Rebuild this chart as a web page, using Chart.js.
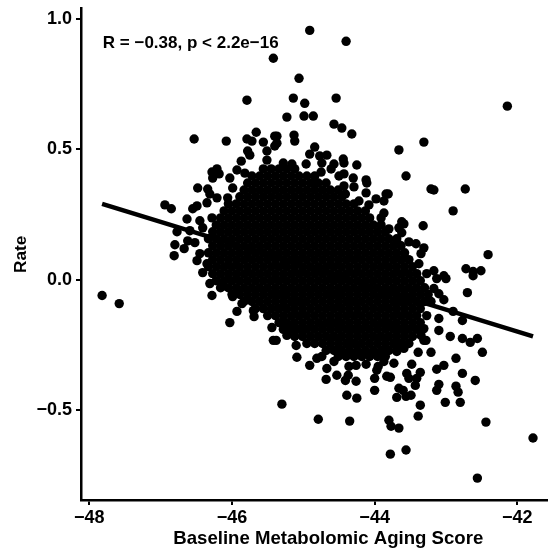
<!DOCTYPE html>
<html>
<head>
<meta charset="utf-8">
<style>
  html, body { margin: 0; padding: 0; background: #fff; }
  canvas { display: block; }
</style>
<script src="https://cdn.jsdelivr.net/npm/chart.js@4"></script>
</head>
<body>
<canvas id="chart" width="548" height="555"></canvas>
<script>
const xTicks = [-48, -46, -44, -42];
const yTicks = [-0.5, 0, 0.5, 1];
const xTitle = "Baseline Metabolomic Aging Score";
const yTitle = "Rate";
const statLabel = "R = \u22120.38, p < 2.2e\u221216";
const statX = -47.81;
const statY = 0.907;

// fit line ends
const fitX = [-47.82, -41.78];
const fitY = [0.291, -0.218];

// points readable on their own, around the edge of the cloud
const edgeX = [
  -45.42,-45.79,-46.53,-46.08,-45.79,-45.72,-45.66,-45.56,-45.78,-45.75,-45.51,-45.40,-45.40,-45.87,-45.51,-45.93,
  -45.82,-46.21,-46.28,-46.18,-46.27,-46.03,-45.99,-46.48,-46.34,-46.31,-46.21,-46.06,-46.94,-46.85,-46.35,-46.49,
  -46.55,-46.63,-46.45,-46.28,-46.59,-46.77,-46.41,-46.62,-46.52,-46.80,-46.67,-46.81,-46.45,-46.49,-46.35,-46.41,
  -44.91,-44.40,-45.06,-45.14,-44.54,-44.98,-42.14,-45.23,-44.99,-44.86,-44.57,-44.46,-44.32,-45.37,-45.13,-45.12,
  -45.37,-43.31,-43.66,-44.84,-44.91,-44.77,-44.67,-44.74,-44.44,-44.43,-44.57,-44.25,-45.28,-45.16,-44.96,-43.56,
  -44.43,-44.50,-44.75,-44.61,-44.30,-44.12,-44.11,-43.21,-43.17,-42.73,-44.81,-44.43,-44.29,-44.12,-43.84,-43.81,
  -44.41,-42.90,-44.22,-43.98,-43.87,-44.08,-43.87,-43.91,-43.62,-43.59,-43.32,-43.66,-43.80,-43.62,-43.52,-43.42,
  -43.69,-43.31,-42.41,-42.72,-42.62,-42.51,-42.62,-43.17,-43.03,-43.27,-43.38,-43.35,
  -47.82,-47.58,-46.28,-45.93,-46.03,-45.70,-45.69,-45.42,-45.44,-46.14,-46.31,-45.99,-45.86,
  -42.70,-43.03,-43.10,-42.90,-43.10,-42.77,-43.10,-42.94,-42.77,-42.56,-42.66,-42.49,-43.21,-43.39,-43.31,-42.86,
  -43.03,-43.13,-42.77,-43.48,-43.36,-43.55,-43.52,-43.41,-42.59,-43.43,-43.10,-43.13,-42.86,-42.83,-43.66,-43.60,
  -43.49,-43.56,-43.69,-43.01,-42.80,-43.36,-43.39,-42.44,-43.80,-43.77,-43.66,-41.78,-43.56,-43.78,-42.56,-45.30,
  -44.79,-44.35,-44.00,-44.39,-44.25,-44.68,-44.53,-44.41,-44.37,-44.26,-43.83,-43.78,-44.00,-43.97,-43.95,-43.73,
  -43.87,-44.67,-44.91,-45.09,-44.81,-44.74,-44.57,-44.36,-44.26,-44.12,-45.10,-45.38,-45.23,-43.69,-43.59,-43.28,
  -43.35,-43.31,-43.27,-43.21,-43.17,-43.00,-43.13
];
const edgeY = [
  0.850,0.689,0.540,0.532,0.540,0.532,0.566,0.528,0.494,0.478,0.494,0.551,0.513,0.455,0.459,0.421,
  0.409,0.425,0.413,0.406,0.390,0.390,0.352,0.352,0.348,0.329,0.314,0.314,0.287,0.272,0.295,0.283,
  0.272,0.233,0.226,0.237,0.188,0.184,0.199,0.149,0.142,0.134,0.119,0.092,0.100,0.073,0.061,0.027,
  0.957,0.915,0.773,0.697,0.697,0.677,0.666,0.624,0.628,0.628,0.597,0.582,0.559,0.551,0.555,0.532,
  0.524,0.528,0.498,0.509,0.482,0.475,0.478,0.448,0.463,0.448,0.444,0.440,0.448,0.444,0.444,0.398,
  0.406,0.398,0.413,0.425,0.390,0.383,0.371,0.348,0.344,0.348,0.371,0.360,0.356,0.333,0.329,0.329,
  0.329,0.264,0.302,0.310,0.302,0.287,0.256,0.237,0.222,0.214,0.207,0.199,0.195,0.180,0.145,0.138,
  0.145,0.122,0.096,0.042,0.031,0.034,0.015,0.034,0.015,0.023,0.061,0.100,
  -0.061,-0.092,-0.061,-0.122,-0.165,-0.119,-0.142,-0.233,-0.184,-0.027,-0.015,-0.065,-0.092,
  -0.050,-0.077,-0.054,-0.122,-0.149,-0.157,-0.195,-0.218,-0.226,-0.226,-0.241,-0.279,-0.279,-0.279,-0.233,-0.302,
  -0.329,-0.344,-0.360,-0.325,-0.356,-0.360,-0.379,-0.379,-0.387,-0.406,-0.402,-0.425,-0.409,-0.432,-0.417,-0.425,
  -0.444,-0.448,-0.452,-0.471,-0.471,-0.482,-0.524,-0.547,-0.540,-0.563,-0.570,-0.608,-0.654,-0.670,-0.762,-0.478,
  -0.536,-0.543,-0.425,-0.444,-0.455,-0.383,-0.367,-0.387,-0.367,-0.390,-0.371,-0.375,-0.379,-0.348,-0.333,-0.321,
  -0.314,-0.341,-0.329,-0.298,-0.302,-0.295,-0.314,-0.333,-0.329,-0.325,-0.253,-0.233,-0.214,-0.276,-0.264,-0.233,
  -0.214,-0.188,-0.138,-0.084,-0.034,0.004,0.004
];

// overplotted middle of the cloud, estimated row by row
const coreY = [
  0.425,0.398,0.371,0.344,0.318,0.291,0.264,0.237,0.210,0.184,0.157,0.130,0.103,0.077,
  0.050,0.023,-0.004,-0.031,-0.057,-0.084,-0.111,-0.138,-0.165,-0.191,-0.218,-0.245,-0.272,-0.295
];
const coreX = [
  [-45.56,-45.45,-45.34,-45.23,-45.12],
  [-45.72,-45.61,-45.50,-45.39,-45.28,-45.17,-45.06,-44.95,-44.84],
  [-45.78,-45.67,-45.56,-45.45,-45.34,-45.23,-45.12,-45.01,-44.90,-44.79,-44.68],
  [-45.83,-45.72,-45.61,-45.50,-45.39,-45.28,-45.17,-45.06,-44.95,-44.84,-44.73,-44.62,-44.51],
  [-45.89,-45.78,-45.67,-45.56,-45.45,-45.34,-45.23,-45.12,-45.01,-44.90,-44.79,-44.68,-44.57,-44.46],
  [-46.05,-45.94,-45.83,-45.72,-45.61,-45.50,-45.39,-45.28,-45.17,-45.06,-44.95,-44.84,-44.73,-44.62,-44.51,-44.40,-44.29],
  [-46.11,-46.00,-45.89,-45.78,-45.67,-45.56,-45.45,-45.34,-45.23,-45.12,-45.01,-44.90,-44.79,-44.68,-44.57,-44.46,-44.35,-44.24,-44.13],
  [-46.16,-46.05,-45.94,-45.83,-45.72,-45.61,-45.50,-45.39,-45.28,-45.17,-45.06,-44.95,-44.84,-44.73,-44.62,-44.51,-44.40,-44.29,-44.18,-44.07],
  [-46.22,-46.11,-46.00,-45.89,-45.78,-45.67,-45.56,-45.45,-45.34,-45.23,-45.12,-45.01,-44.90,-44.79,-44.68,-44.57,-44.46,-44.35,-44.24,-44.13,-44.02,-43.91],
  [-46.27,-46.16,-46.05,-45.94,-45.83,-45.72,-45.61,-45.50,-45.39,-45.28,-45.17,-45.06,-44.95,-44.84,-44.73,-44.62,-44.51,-44.40,-44.29,-44.18,-44.07,-43.96,-43.85],
  [-46.33,-46.22,-46.11,-46.00,-45.89,-45.78,-45.67,-45.56,-45.45,-45.34,-45.23,-45.12,-45.01,-44.90,-44.79,-44.68,-44.57,-44.46,-44.35,-44.24,-44.13,-44.02,-43.91,-43.80,-43.69],
  [-46.27,-46.16,-46.05,-45.94,-45.83,-45.72,-45.61,-45.50,-45.39,-45.28,-45.17,-45.06,-44.95,-44.84,-44.73,-44.62,-44.51,-44.40,-44.29,-44.18,-44.07,-43.96,-43.85,-43.74,-43.63],
  [-46.33,-46.22,-46.11,-46.00,-45.89,-45.78,-45.67,-45.56,-45.45,-45.34,-45.23,-45.12,-45.01,-44.90,-44.79,-44.68,-44.57,-44.46,-44.35,-44.24,-44.13,-44.02,-43.91,-43.80,-43.69,-43.58],
  [-46.27,-46.16,-46.05,-45.94,-45.83,-45.72,-45.61,-45.50,-45.39,-45.28,-45.17,-45.06,-44.95,-44.84,-44.73,-44.62,-44.51,-44.40,-44.29,-44.18,-44.07,-43.96,-43.85,-43.74,-43.63,-43.52],
  [-46.33,-46.22,-46.11,-46.00,-45.89,-45.78,-45.67,-45.56,-45.45,-45.34,-45.23,-45.12,-45.01,-44.90,-44.79,-44.68,-44.57,-44.46,-44.35,-44.24,-44.13,-44.02,-43.91,-43.80,-43.69,-43.58,-43.47],
  [-46.27,-46.16,-46.05,-45.94,-45.83,-45.72,-45.61,-45.50,-45.39,-45.28,-45.17,-45.06,-44.95,-44.84,-44.73,-44.62,-44.51,-44.40,-44.29,-44.18,-44.07,-43.96,-43.85,-43.74,-43.63,-43.52,-43.41],
  [-46.22,-46.11,-46.00,-45.89,-45.78,-45.67,-45.56,-45.45,-45.34,-45.23,-45.12,-45.01,-44.90,-44.79,-44.68,-44.57,-44.46,-44.35,-44.24,-44.13,-44.02,-43.91,-43.80,-43.69,-43.58,-43.47,-43.36],
  [-46.16,-46.05,-45.94,-45.83,-45.72,-45.61,-45.50,-45.39,-45.28,-45.17,-45.06,-44.95,-44.84,-44.73,-44.62,-44.51,-44.40,-44.29,-44.18,-44.07,-43.96,-43.85,-43.74,-43.63,-43.52,-43.41,-43.30],
  [-46.00,-45.89,-45.78,-45.67,-45.56,-45.45,-45.34,-45.23,-45.12,-45.01,-44.90,-44.79,-44.68,-44.57,-44.46,-44.35,-44.24,-44.13,-44.02,-43.91,-43.80,-43.69,-43.58,-43.47,-43.36,-43.25],
  [-45.83,-45.72,-45.61,-45.50,-45.39,-45.28,-45.17,-45.06,-44.95,-44.84,-44.73,-44.62,-44.51,-44.40,-44.29,-44.18,-44.07,-43.96,-43.85,-43.74,-43.63,-43.52,-43.41,-43.30],
  [-45.67,-45.56,-45.45,-45.34,-45.23,-45.12,-45.01,-44.90,-44.79,-44.68,-44.57,-44.46,-44.35,-44.24,-44.13,-44.02,-43.91,-43.80,-43.69,-43.58,-43.47,-43.36],
  [-45.50,-45.39,-45.28,-45.17,-45.06,-44.95,-44.84,-44.73,-44.62,-44.51,-44.40,-44.29,-44.18,-44.07,-43.96,-43.85,-43.74,-43.63,-43.52,-43.41],
  [-45.34,-45.23,-45.12,-45.01,-44.90,-44.79,-44.68,-44.57,-44.46,-44.35,-44.24,-44.13,-44.02,-43.91,-43.80,-43.69,-43.58,-43.47,-43.36],
  [-45.28,-45.17,-45.06,-44.95,-44.84,-44.73,-44.62,-44.51,-44.40,-44.29,-44.18,-44.07,-43.96,-43.85,-43.74,-43.63,-43.52,-43.41],
  [-45.12,-45.01,-44.90,-44.79,-44.68,-44.57,-44.46,-44.35,-44.24,-44.13,-44.02,-43.91,-43.80,-43.69,-43.58,-43.47],
  [-44.95,-44.84,-44.73,-44.62,-44.51,-44.40,-44.29,-44.18,-44.07,-43.96,-43.85,-43.74,-43.63,-43.52],
  [-44.68,-44.57,-44.46,-44.35,-44.24,-44.13,-44.02,-43.91,-43.80,-43.69],
  [-44.51,-44.40,-44.29,-44.18,-44.07,-43.96,-43.85]
];

const points = edgeX.map((x, i) => ({ x: x, y: edgeY[i] }));
coreX.forEach((row, i) => {
  row.forEach((x) => points.push({ x: x, y: coreY[i] }));
});

const font = "'Liberation Sans', Arial, sans-serif";

// stat label and the x title, which sits right of the axis middle in the original
const textPlugin = {
  id: "extraText",
  afterDraw(chart) {
    const { ctx, scales } = chart;
    ctx.save();
    ctx.fillStyle = "#000";
    ctx.textBaseline = "middle";
    ctx.font = "bold 17px " + font;
    ctx.fillText(statLabel, scales.x.getPixelForValue(statX), scales.y.getPixelForValue(statY));
    ctx.font = "bold 18.6px " + font;
    ctx.textAlign = "center";
    ctx.fillText(xTitle, scales.x.getPixelForValue(-44.65), 538.7);
    ctx.restore();
  },
};

const minus = (v) => String(Number(v).toFixed(Number.isInteger(v) && Math.abs(v) > 1 ? 0 : 1)).replace("-", "\u2212");

new Chart(document.getElementById("chart"), {
  type: "scatter",
  data: {
    datasets: [
      {
        data: points,
        backgroundColor: "#000",
        borderWidth: 0,
        pointRadius: 4.7,
      },
      {
        data: fitX.map((x, i) => ({ x: x, y: fitY[i] })),
        showLine: true,
        borderColor: "#000",
        borderWidth: 4.5,
        pointRadius: 0,
        borderCapStyle: "butt",
      },
    ],
  },
  options: {
    responsive: false,
    animation: false,
    layout: { autoPadding: false, padding: { top: 7, right: 0, left: 0, bottom: 0 } },
    plugins: { legend: { display: false }, tooltip: { enabled: false } },
    scales: {
      x: {
        type: "linear",
        min: -48.116,
        max: -41.57,
        afterBuildTicks: (axis) => {
          axis.ticks = xTicks.map((v) => ({ value: v }));
        },
        afterFit: (axis) => {
          axis.height = 55;
        },
        border: { display: true, color: "#000", width: 2.5 },
        grid: { drawOnChartArea: false, color: "#000", lineWidth: 2, tickLength: 5 },
        ticks: {
          color: "#000",
          padding: 2,
          maxRotation: 0,
          font: { family: font, weight: "bold", size: 18 },
          callback: (v) => minus(v),
        },
      },
      y: {
        min: -0.846,
        max: 1.041,
        afterBuildTicks: (axis) => {
          axis.ticks = yTicks.map((v) => ({ value: v }));
        },
        afterFit: (axis) => {
          axis.width = 81;
        },
        border: { display: true, color: "#000", width: 2.5 },
        grid: { drawOnChartArea: false, color: "#000", lineWidth: 2, tickLength: 5 },
        ticks: {
          color: "#000",
          padding: 4,
          // small line height so the top label does not push the plot area down
          font: { family: font, weight: "bold", size: 18, lineHeight: 0.5 },
          callback: (v) => minus(v),
        },
        title: {
          display: true,
          text: yTitle,
          color: "#000",
          padding: { top: 11, bottom: 0 },
          font: { family: font, weight: "bold", size: 17.2 },
        },
      },
    },
  },
  plugins: [textPlugin],
});
</script>
</body>
</html>
